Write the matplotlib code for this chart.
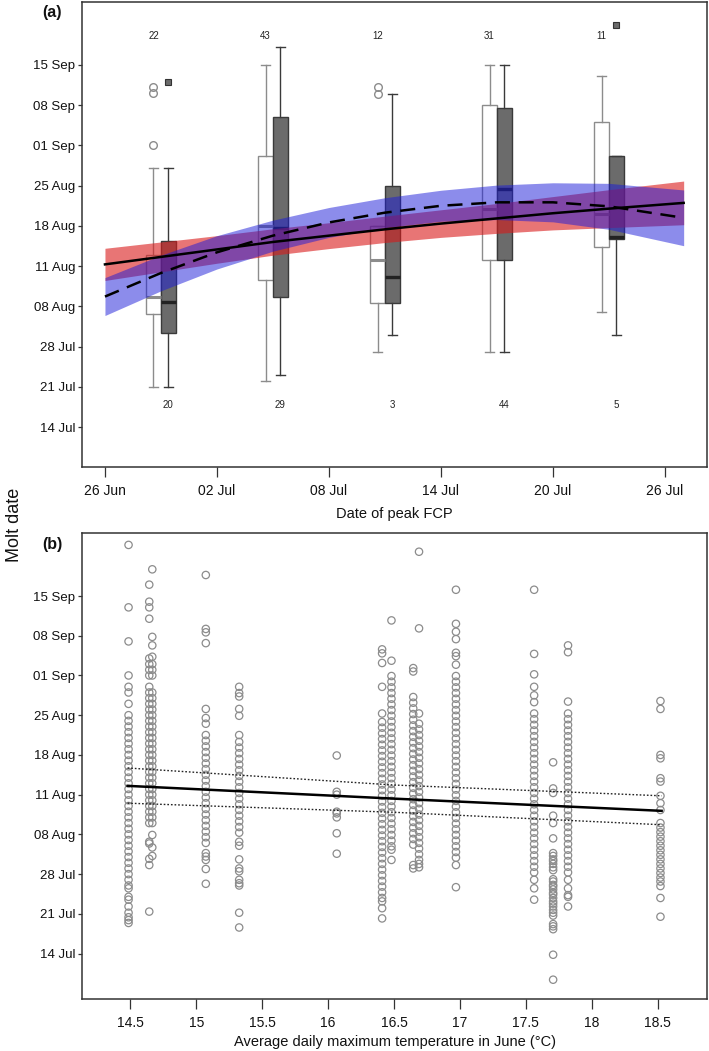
import numpy as np
import matplotlib
matplotlib.use('Agg')
import matplotlib.pyplot as plt

plt.rcParams['font.family'] = ['Liberation Sans', 'DejaVu Sans']
NARROW = ['Liberation Sans Narrow', 'Liberation Sans', 'DejaVu Sans']

# ---------------- shared y axis (molt date, day of year) ----------------
date_ticks = [258, 251, 244, 237, 230, 223, 216, 209, 202, 195]
date_labels = ['15 Sep', '08 Sep', '01 Sep', '25 Aug', '18 Aug', '11 Aug',
               '08 Aug', '28 Jul', '21 Jul', '14 Jul']

# ---------------- panel (a) ----------------
fcp_ticks = [177, 183, 189, 195, 201, 207]
fcp_labels = ['26 Jun', '02 Jul', '08 Jul', '14 Jul', '20 Jul', '26 Jul']

group_pos = [180, 186, 192, 198, 204]
n_white = [22, 43, 12, 31, 11]
n_gray = [20, 29, 3, 44, 5]

w_whislo = [202.0, 203.0, 208.0, 208.0, 215.0]
w_q1 = [214.6, 220.5, 216.6, 224.1, 226.4]
w_med = [217.6, 229.9, 224.1, 232.9, 232.0]
w_q3 = [224.9, 242.2, 230.0, 251.0, 248.0]
w_whishi = [240.0, 258.0, 230.0, 258.0, 256.0]
w_fliers = [[254.1, 253.1, 244.0], [], [254.2, 252.9], [], []]

g_whislo = [202.0, 204.0, 211.0, 208.0, 211.0]
g_q1 = [211.4, 217.6, 216.6, 224.1, 227.8]
g_med = [216.7, 229.7, 221.1, 236.5, 228.1]
g_q3 = [227.4, 249.0, 236.9, 250.5, 242.2]
g_whishi = [240.0, 261.1, 253.0, 258.0, 242.2]
g_fliers = [[255.0], [], [], [], [265.0]]

fit_days = [177, 180, 183, 186, 189, 192, 195, 198, 201, 204, 208]
solid_fit = [223.3, 224.6, 225.9, 227.2, 228.3, 229.4, 230.4, 231.3, 232.2, 233.0, 234.0]
solid_lo = [220.5, 222.0, 223.5, 224.9, 226.05, 227.1, 228.0, 228.7, 229.3, 229.7, 230.2]
solid_hi = [226.1, 227.2, 228.3, 229.5, 230.55, 231.7, 232.8, 233.9, 235.1, 236.3, 237.8]
dashed_fit = [217.7, 221.8, 225.4, 228.3, 230.6, 232.3, 233.5, 234.1, 234.1, 233.4, 231.4]
dashed_lo = [214.4, 218.7, 222.5, 225.6, 228.0, 229.7, 230.8, 231.1, 230.7, 229.4, 226.55]
dashed_hi = [221.0, 224.9, 228.3, 231.0, 233.2, 234.9, 236.2, 237.1, 237.5, 237.4, 236.25]

# ---------------- panel (b) ----------------
temp_ticks = [14.5, 15, 15.5, 16, 16.5, 17, 17.5, 18, 18.5]
temp_labels = ['14.5', '15', '15.5', '16', '16.5', '17', '17.5', '18', '18.5']

col_temps = [14.487, 14.644, 14.667, 15.073, 15.326, 16.066, 16.41, 16.481,
             16.646, 16.69, 16.97, 17.563, 17.707, 17.82, 18.521]
col_days = [
    [267, 256, 250, 244, 242, 241, 239, 237, 236, 235, 234, 233, 232, 231, 230, 229, 228,
     227, 226, 225, 224, 223, 222, 221, 220, 219, 218, 217, 216, 215, 214, 213, 212, 211,
     210, 209, 208, 207, 206.5, 205, 204.5, 203.3, 202.2, 201.4, 200.9, 200.4],
    [260, 257, 256, 254, 247, 246, 245, 244, 242, 241, 240, 239, 238, 237, 236, 235, 234,
     233, 232, 231, 230, 229, 228, 227, 226, 225, 224, 223, 222, 221, 220, 219, 218,
     214.7, 214.4, 211.7, 210.6, 202.4],
    [262.7, 250.8, 249.3, 247.3, 246, 245, 244, 241, 240, 239, 238, 237, 236, 235, 234,
     233, 232, 231, 230, 229, 228, 227, 226, 225, 224, 223, 222, 221, 220, 219, 218,
     215.9, 213.7, 212.2],
    [261.7, 252.2, 251.6, 249.7, 238.1, 236.5, 235.5, 233.5, 232.5, 231.5, 230.5, 229.5,
     228.5, 227.5, 226.5, 225.5, 224.5, 223.5, 222.5, 221.5, 220.5, 219.5, 218.5, 217.5,
     216.5, 215.5, 214.5, 212.7, 212.1, 211.5, 209.9, 207.3],
    [242.0, 240.9, 240.3, 238.1, 236.9, 233.5, 232.3, 231.3, 230.3, 229.3, 228.3, 227.3,
     226.3, 225.3, 224.3, 223.3, 222.3, 221.3, 220.3, 219.3, 218.3, 217.3, 216.3, 214.7,
     214.0, 211.6, 210.0, 209.5, 208.0, 207.4, 207.0, 202.2, 199.6],
    [229.9, 223.5, 223.0, 220.0, 219.7, 219.0, 216.2, 212.6],
    [248.6, 247.9, 246.2, 242.0, 237.3, 235.8, 234.8, 233.8, 232.8, 231.8, 230.8, 229.8,
     228.8, 227.8, 226.8, 225.8, 224.8, 223.8, 222.8, 221.8, 220.8, 219.8, 218.8, 217.8,
     216.8, 215.8, 214.8, 213.8, 212.8, 211.8, 210.8, 209.8, 208.8, 207.8, 206.8, 205.8,
     204.8, 204.2, 203.0, 201.2],
    [253.7, 246.6, 243.9, 242.9, 241.9, 240.9, 239.9, 238.9, 237.9, 236.9, 235.9, 234.9,
     233.9, 232.9, 231.9, 230.9, 229.9, 228.9, 227.9, 226.9, 225.9, 224.9, 223.9, 222.9,
     221.9, 220.9, 219.9, 218.9, 217.9, 216.9, 215.9, 214.9, 213.9, 213.3, 211.5],
    [245.3, 244.7, 240.2, 239.2, 238.2, 237.2, 236.2, 235.2, 234.2, 233.2, 232.2, 231.2,
     230.2, 229.2, 228.2, 227.2, 226.2, 225.2, 224.2, 223.2, 222.2, 221.2, 220.2, 219.2,
     218.2, 217.2, 216.2, 215.2, 214.2, 210.6, 210.0],
    [265.8, 252.3, 237.3, 235.5, 234.5, 233.5, 232.5, 231.5, 230.5, 229.5, 228.5, 227.5,
     226.5, 225.5, 224.5, 223.5, 222.5, 221.5, 220.5, 219.5, 218.5, 217.5, 216.5, 215.5,
     214.5, 213.5, 212.5, 211.5, 210.8, 210.2],
    [259.1, 253.1, 251.7, 250.4, 248.0, 247.4, 245.9, 243.9, 242.9, 241.9, 240.9, 239.9,
     238.9, 237.9, 236.9, 235.9, 234.9, 233.9, 232.9, 231.9, 230.9, 229.9, 228.9, 227.9,
     226.9, 225.9, 224.9, 223.9, 222.9, 221.9, 220.9, 219.9, 218.9, 217.9, 216.9, 215.9,
     214.9, 213.9, 212.9, 211.9, 210.6, 206.7],
    [259.1, 247.8, 244.2, 242.0, 240.5, 239.3, 237.3, 236.3, 235.3, 234.3, 233.3, 232.3,
     231.3, 230.3, 229.3, 228.3, 227.3, 226.3, 225.3, 224.3, 223.3, 222.3, 221.3, 220.3,
     219.3, 218.3, 217.3, 216.3, 215.3, 214.3, 213.3, 212.3, 211.3, 210.3, 209.3, 208.0,
     206.5, 204.5],
    [228.7, 224.1, 223.3, 219.3, 218.0, 215.3, 212.7, 212.2, 211.6, 211.3, 210.8, 210.2,
     209.7, 208.1, 207.7, 207.1, 206.8, 206.3, 205.7, 205.4, 204.8, 204.2, 203.8, 203.3,
     202.7, 202.2, 201.7, 200.2, 199.8, 199.3, 194.8, 190.4],
    [249.3, 248.1, 239.4, 237.3, 236.3, 235.3, 234.3, 233.3, 232.3, 231.3, 230.3, 229.3,
     228.3, 227.3, 226.3, 225.3, 224.3, 223.3, 222.3, 221.3, 220.3, 219.3, 218.3, 217.3,
     216.3, 215.3, 214.3, 213.3, 212.3, 211.3, 210.3, 209.3, 208.0, 206.5, 205.3, 205.0,
     203.3],
    [239.5, 238.1, 230.0, 229.4, 225.9, 225.3, 222.8, 221.5, 220.3, 218.0, 217.2, 216.4,
     215.6, 214.8, 214.0, 213.2, 212.4, 211.6, 210.8, 210.0, 209.2, 208.4, 207.7, 206.9,
     204.8, 201.5],
]

reg_temps = [14.48, 16.5, 18.53]
reg_fit = [224.55, 222.3, 220.15]
reg_hi = [227.7, 224.7, 222.8]
reg_lo = [221.5, 219.9, 217.7]

# ---------------- figure ----------------
W, H = 709, 1051
fig = plt.figure(figsize=(W / 100, H / 100), dpi=100)


def rect(l, t, r, b):
    return [l / W, 1 - b / H, (r - l) / W, (b - t) / H]


ax1 = fig.add_axes(rect(82, 2, 707, 467))
ax2 = fig.add_axes(rect(82, 533, 707, 999))

SPINE = '#333333'
for ax in (ax1, ax2):
    for s in ax.spines.values():
        s.set_color(SPINE)
        s.set_linewidth(1.1)
    ax.set_yticks(date_ticks)
    ax.set_yticklabels(date_labels, fontsize=9.5, color='#111111')
    ax.tick_params(axis='y', direction='out', length=3, width=0.9, pad=2, color=SPINE)
    ax.tick_params(axis='x', direction='out', length=7.5, width=0.9, pad=5, color=SPINE)

# ---- panel (a) boxplots ----
def make_stats(lo, q1, med, q3, hi, fl):
    return [dict(whislo=a, q1=b, med=c, q3=d, whishi=e, fliers=f)
            for a, b, c, d, e, f in zip(lo, q1, med, q3, hi, fl)]

white_stats = make_stats(w_whislo, w_q1, w_med, w_q3, w_whishi, w_fliers)
gray_stats = make_stats(g_whislo, g_q1, g_med, g_q3, g_whishi, g_fliers)
wpos = [p - 0.4 for p in group_pos]
gpos = [p + 0.4 for p in group_pos]

ax1.bxp(white_stats, positions=wpos, widths=0.8, capwidths=0.45, patch_artist=True,
        showfliers=True, manage_ticks=False,
        boxprops=dict(facecolor='white', edgecolor='#8c8c8c', linewidth=1.0),
        whiskerprops=dict(color='#8c8c8c', linewidth=1.0),
        capprops=dict(color='#8c8c8c', linewidth=1.0),
        medianprops=dict(color='#8c8c8c', linewidth=2.2),
        flierprops=dict(marker='o', markerfacecolor='none', markeredgecolor='#8c8c8c',
                        markersize=5.5, markeredgewidth=1.0))
ax1.bxp(gray_stats, positions=gpos, widths=0.8, capwidths=0.45, patch_artist=True,
        showfliers=True, manage_ticks=False,
        boxprops=dict(facecolor='#6b6b6b', edgecolor='#3a3a3a', linewidth=1.0),
        whiskerprops=dict(color='#3a3a3a', linewidth=1.0),
        capprops=dict(color='#3a3a3a', linewidth=1.0),
        medianprops=dict(color='#222222', linewidth=2.4),
        flierprops=dict(marker='s', markerfacecolor='#6b6b6b', markeredgecolor='#333333',
                        markersize=4.5, markeredgewidth=0.8))

ax1.fill_between(fit_days, solid_lo, solid_hi, color=(0.85, 0.1, 0.1), alpha=0.6,
                 linewidth=0, zorder=4)
ax1.fill_between(fit_days, dashed_lo, dashed_hi, color=(0.1, 0.1, 0.85), alpha=0.5,
                 linewidth=0, zorder=5)
ax1.plot(fit_days, solid_fit, color='black', linewidth=1.8, zorder=6)
ax1.plot(fit_days, dashed_fit, color='black', linewidth=1.8, dashes=(6, 3.5), zorder=6)

for x, n in zip(wpos, n_white):
    ax1.text(x, 263.0, str(n), ha='center', va='center', fontsize=7, color='#222222')
for x, n in zip(gpos, n_gray):
    ax1.text(x, 198.9, str(n), ha='center', va='center', fontsize=7, color='#222222')

ax1.set_xlim(175.77, 209.25)
ax1.set_ylim(188.04, 268.96)
ax1.set_xticks(fcp_ticks)
ax1.set_xticklabels(fcp_labels, fontsize=10, family=NARROW, color='#111111')
ax1.set_xlabel('Date of peak FCP', fontsize=10.5, family=NARROW, labelpad=6.5, color='#111111')

# ---- panel (b) ----
for t, days in zip(col_temps, col_days):
    ax2.scatter([t] * len(days), days, s=28, facecolors='none', edgecolors='#8c8c8c',
                linewidths=0.9, zorder=2)
ax2.plot(reg_temps, reg_fit, color='black', linewidth=1.8, zorder=4)
ax2.plot(reg_temps, reg_hi, color='#222222', linewidth=1.0, dashes=(1.2, 1.4), zorder=4)
ax2.plot(reg_temps, reg_lo, color='#222222', linewidth=1.0, dashes=(1.2, 1.4), zorder=4)

ax2.set_xlim(14.134, 18.874)
ax2.set_ylim(187.0, 269.1)
ax2.set_xticks(temp_ticks)
ax2.set_xticklabels(temp_labels, fontsize=10, family=NARROW, color='#111111')
ax2.set_xlabel('Average daily maximum temperature in June (°C)', fontsize=10.5,
               family=NARROW, labelpad=3.5, color='#111111')

# ---- figure-level labels ----
fig.text(15 / W, 1 - 525 / H, 'Molt date', rotation=90, ha='center', va='center',
         fontsize=13, color='#111111')
fig.text(52 / W, 1 - 13 / H, '(a)', ha='center', va='center', fontsize=11.5,
         fontweight='bold', color='#111111')
fig.text(52 / W, 1 - 545 / H, '(b)', ha='center', va='center', fontsize=11.5,
         fontweight='bold', color='#111111')

fig.savefig('out.png', dpi=100)
